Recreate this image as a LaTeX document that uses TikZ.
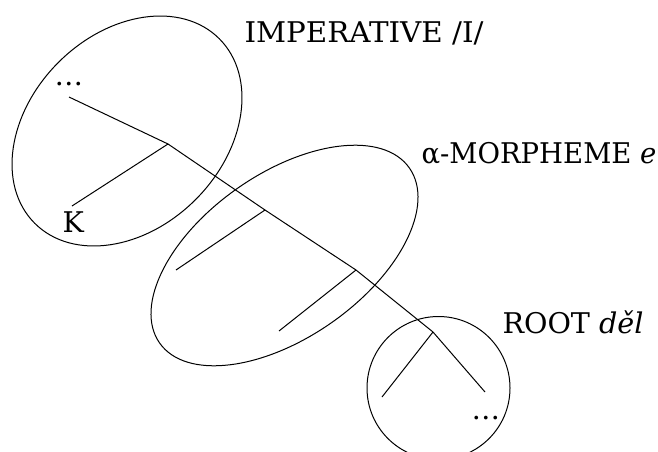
\documentclass[tikz,border=0pt]{standalone}
\usepackage{fontspec}
\usepackage{graphicx}
\setmainfont{DejaVu Serif}
\usetikzlibrary{shapes.geometric}
\begin{document}
\begin{tikzpicture}[x=1pt,y=-1pt,line width=1pt,
  lab/.style={anchor=base west,inner sep=0pt,font=\fontsize{28.5}{30}\selectfont},
  blob/.style={draw,ellipse,inner sep=0pt}]
\useasboundingbox (0,0) rectangle (658,452);
% enclosures
\node[blob,minimum width=261pt,minimum height=194pt,rotate=45] (e1) at (127,131) {};
\node[blob,minimum width=305pt,minimum height=164pt,rotate=35] (e2) at (284.5,255.5) {};
\node[draw,circle,inner sep=0pt,minimum size=143pt] (e3) at (438.5,388) {};
% tree points
\coordinate (t1) at (69,97);
\coordinate (j1) at (168,144);
\coordinate (k1) at (72,206);
\coordinate (j2) at (265,210);
\coordinate (b2) at (176,270);
\coordinate (j3) at (356,270);
\coordinate (b3) at (279,331);
\coordinate (j4) at (433,332);
\coordinate (b4) at (382,397);
\coordinate (e4) at (485,392);
\draw (t1) -- (j1) -- (j2) -- (j3) -- (j4) -- (e4);
\draw (j1) -- (k1);
\draw (j2) -- (b2);
\draw (j3) -- (b3);
\draw (j4) -- (b4);
% labels
\node[lab] (dotsA) at (54,85) {…};
\node[lab] (kk) at (62,232) {K};
\node[lab] (dotsB) at (471,419) {…};
\node[lab] (imp) at (244,42) {\resizebox{239pt}{\height}{IMPERATIVE /I/}};
\node[lab] (alpha) at (421,163) {\resizebox{235pt}{\height}{α-MORPHEME \textit{e}}};
\node[lab] (root) at (502,333) {\resizebox{141pt}{\height}{ROOT \textit{děl}}};
\end{tikzpicture}
\end{document}
